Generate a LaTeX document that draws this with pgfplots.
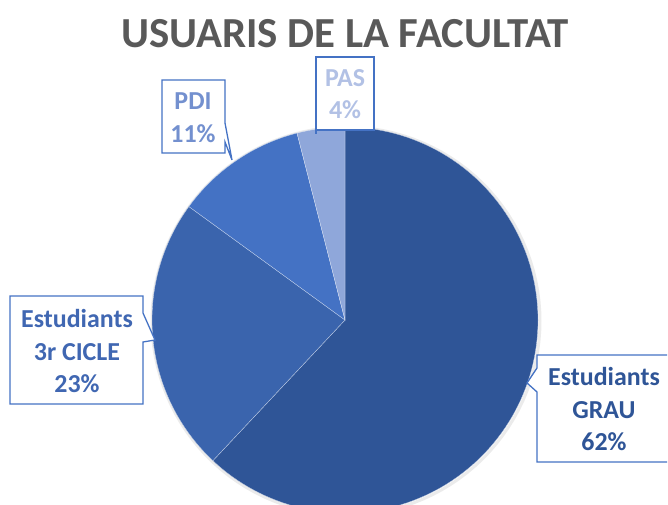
\documentclass[border=0pt]{standalone}
\usepackage{pgfplots}
\pgfplotsset{compat=1.18}
\usepackage{fontspec}
\setmainfont{Carlito}
\definecolor{cGrau}{HTML}{2F5597}
\definecolor{cCicle}{HTML}{3A64AD}
\definecolor{cPDI}{HTML}{4472C4}
\definecolor{cPAS}{HTML}{8FA7DA}
\definecolor{tGrau}{HTML}{2F5597}
\definecolor{tCicle}{HTML}{4067B2}
\definecolor{tPDI}{HTML}{7390CF}
\definecolor{tPAS}{HTML}{B2C1E5}
\definecolor{boxc}{HTML}{4472C4}
\definecolor{titlec}{HTML}{595959}
% shares (%) of each group, clockwise from 12 o'clock
\def\pGrau{62}
\def\pCicle{23}
\def\pPDI{11}
\def\pPAS{4}
\pgfmathsetmacro{\aA}{90}
\pgfmathsetmacro{\aB}{\aA-3.6*\pGrau}
\pgfmathsetmacro{\aC}{\aB-3.6*\pCicle}
\pgfmathsetmacro{\aD}{\aC-3.6*\pPDI}
\pgfmathsetmacro{\aE}{\aD-3.6*\pPAS}
\begin{document}
\begin{tikzpicture}
\begin{axis}[width=668bp,height=505bp,scale only axis,
  xmin=0,xmax=668,ymin=0,ymax=505,y dir=reverse,hide axis,clip=true]
% soft shadow
\addplot[draw=black!8,line width=3pt,domain=0:360,samples=120] ({346+194*cos(x)},{321-194*sin(x)});
\addplot[fill=cGrau,draw=white!70!cGrau,line width=0.3pt,domain=\aB:\aA,samples=120] ({345+193*cos(x)},{320-193*sin(x)}) -- (axis cs:345,320) -- cycle;
\addplot[fill=cCicle,draw=white!70!cCicle,line width=0.3pt,domain=\aC:\aB,samples=60] ({345+193*cos(x)},{320-193*sin(x)}) -- (axis cs:345,320) -- cycle;
\addplot[fill=cPDI,draw=white!70!cPDI,line width=0.3pt,domain=\aD:\aC,samples=40] ({345+193*cos(x)},{320-193*sin(x)}) -- (axis cs:345,320) -- cycle;
\addplot[fill=cPAS,draw=white!70!cPAS,line width=0.3pt,domain=\aE:\aD,samples=20] ({345+193*cos(x)},{320-193*sin(x)}) -- (axis cs:345,320) -- cycle;
\end{axis}
\begin{axis}[width=668bp,height=505bp,scale only axis,
  xmin=0,xmax=668,ymin=0,ymax=505,y dir=reverse,hide axis,clip=false]
% title
\node[anchor=base,text=titlec,font=\fontsize{43}{43}\selectfont\bfseries] at (axis cs:345,48) {USUARIS DE LA FACULTAT};
% callouts
\draw[boxc,line width=1.3pt,fill=white] (axis cs:667,355) -- (axis cs:537,355) -- (axis cs:537,368) -- (axis cs:527,383) -- (axis cs:537,392) -- (axis cs:537,462) -- (axis cs:667,462);
\draw[boxc,line width=1.3pt,fill=white] (axis cs:10,296) -- (axis cs:143,296) -- (axis cs:143,313) -- (axis cs:155,340) -- (axis cs:143,342) -- (axis cs:143,404) -- (axis cs:10,404) -- cycle;
\draw[boxc,line width=1.3pt,fill=white] (axis cs:162,80) -- (axis cs:225,80) -- (axis cs:225,123) -- (axis cs:232,160) -- (axis cs:225,142) -- (axis cs:225,153) -- (axis cs:162,153) -- cycle;
\draw[boxc,line width=1.3pt,fill=white] (axis cs:316,57) -- (axis cs:374,57) -- (axis cs:374,130) -- (axis cs:316,130) -- cycle;
\draw[boxc,line width=1.3pt] (axis cs:316,118) -- (axis cs:316,134);
\tikzset{lab/.style={anchor=base,font=\fontsize{26}{26}\selectfont\bfseries}}
\node[lab,text=tGrau] at (axis cs:604,385) {Estudiants};
\node[lab,text=tGrau] at (axis cs:604,418) {GRAU};
\node[lab,text=tGrau] at (axis cs:604,450) {62\%};
\node[lab,text=tCicle] at (axis cs:77,327) {Estudiants};
\node[lab,text=tCicle] at (axis cs:77,360) {3r CICLE};
\node[lab,text=tCicle] at (axis cs:77,392) {23\%};
\node[lab,text=tPDI] at (axis cs:193,110) {PDI};
\node[lab,text=tPDI] at (axis cs:193,142) {11\%};
\node[lab,text=tPAS] at (axis cs:345,87) {PAS};
\node[lab,text=tPAS] at (axis cs:345,119) {4\%};
\end{axis}
\pgfresetboundingbox
\path[use as bounding box] (current axis.south west) rectangle (current axis.north east);
\end{tikzpicture}
\end{document}
